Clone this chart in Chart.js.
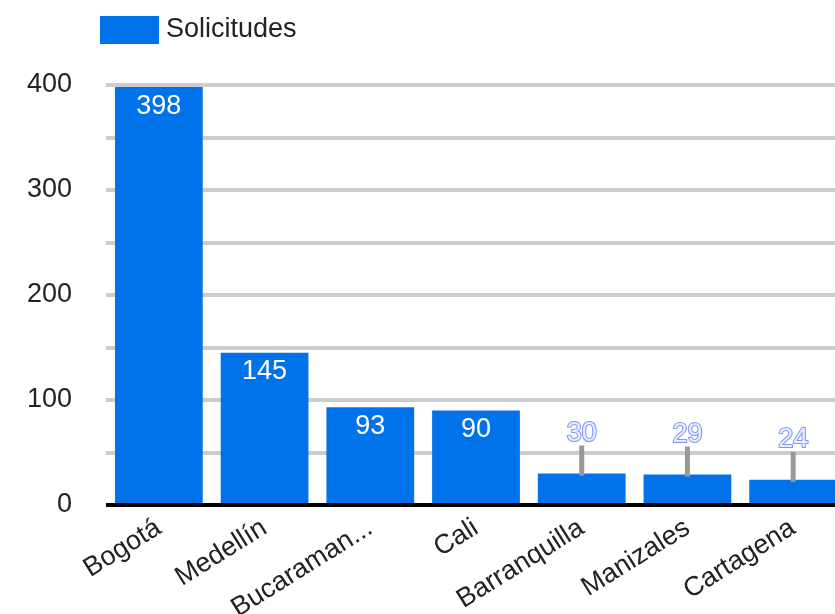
<!DOCTYPE html>
<html>
<head>
<meta charset="utf-8">
<script src="https://cdn.jsdelivr.net/npm/chart.js@4"></script>
<style>
  html, body { margin: 0; padding: 0; overflow: hidden; background: #fff; }
  canvas { display: block; }
</style>
</head>
<body>
<canvas id="myChart" width="850" height="614"></canvas>
<script>
const ciudades = ['Bogotá', 'Medellín', 'Bucaramanga', 'Cali', 'Barranquilla', 'Manizales', 'Cartagena'];
const solicitudes = [398, 145, 93, 90, 30, 29, 24];
const serieNombre = 'Solicitudes';

const azul = '#0073ea';
const fuente = '"Liberation Sans", Arial, sans-serif';

// para recortar etiquetas largas como hace Google Charts
const medidor = document.createElement('canvas').getContext('2d');
medidor.font = '27px ' + fuente;

// leyenda dibujada a mano, arriba a la izquierda
const leyenda = {
  id: 'leyenda',
  afterDraw(chart) {
    const c = chart.ctx;
    c.save();
    c.fillStyle = azul;
    c.fillRect(100, 16, 59, 28);
    c.fillStyle = '#222';
    c.font = '27px ' + fuente;
    c.textAlign = 'left';
    c.textBaseline = 'middle';
    c.fillText(chart.data.datasets[0].label, 166, 30);
    c.restore();
  }
};

// etiquetas de valor sobre / dentro de las barras
const etiquetas = {
  id: 'etiquetas',
  afterDatasetsDraw(chart) {
    const c = chart.ctx;
    const meta = chart.getDatasetMeta(0);
    c.save();
    c.font = '27px ' + fuente;
    c.textAlign = 'center';
    c.textBaseline = 'middle';
    meta.data.forEach(function(bar, i) {
      const txt = String(solicitudes[i]);
      const alto = bar.base - bar.y;
      if (alto >= 45) {
        c.fillStyle = '#fff';
        c.fillText(txt, bar.x, bar.y + 19);
      } else {
        c.strokeStyle = '#999';
        c.lineWidth = 5;
        c.beginPath();
        c.moveTo(bar.x, bar.y + 2);
        c.lineTo(bar.x, bar.y - 28);
        c.stroke();
        c.lineWidth = 2;
        c.strokeStyle = '#7d95f5';
        c.strokeText(txt, bar.x, bar.y - 40);
        c.fillStyle = '#e8edff';
        c.fillText(txt, bar.x, bar.y - 40);
      }
    });
    c.restore();
  }
};

var myChart = new Chart(document.getElementById('myChart'), {
  type: 'bar',
  data: {
    labels: ciudades,
    datasets: [
      {
        label: serieNombre,
        data: solicitudes,
        backgroundColor: azul,
        borderWidth: 0,
        categoryPercentage: 0.83,
        barPercentage: 1
      }
    ]
  },
  options: {
    responsive: false,
    animation: false,
    layout: { padding: { top: 85, right: 4, left: 0, bottom: 0 } },
    plugins: {
      legend: { display: false },
      tooltip: { enabled: false }
    },
    scales: {
      x: {
        grid: { display: false, drawTicks: false },
        border: { display: false },
        ticks: {
          color: '#222',
          font: { family: fuente, size: 27 },
          minRotation: 32,
          maxRotation: 32,
          padding: 7,
          autoSkip: false,
          callback: function(v, i) {
            const t = ciudades[i];
            return medidor.measureText(t).width > 150 ? t.slice(0, 9) + '...' : t;
          }
        },
        afterFit: function(scale) { scale.height = 109; }
      },
      y: {
        min: 0,
        max: 400,
        grid: {
          drawTicks: false,
          lineWidth: 4,
          color: function(ctx) { return ctx.tick && ctx.tick.value === 0 ? '#000' : '#cccccc'; }
        },
        border: { display: false },
        ticks: {
          stepSize: 50,
          color: '#222',
          padding: 34,
          font: { family: fuente, size: 27 },
          callback: function(v) { return v % 100 === 0 ? v : ''; }
        },
        afterFit: function(scale) { scale.width = 106; }
      }
    }
  },
  plugins: [leyenda, etiquetas]
});
</script>
</body>
</html>
